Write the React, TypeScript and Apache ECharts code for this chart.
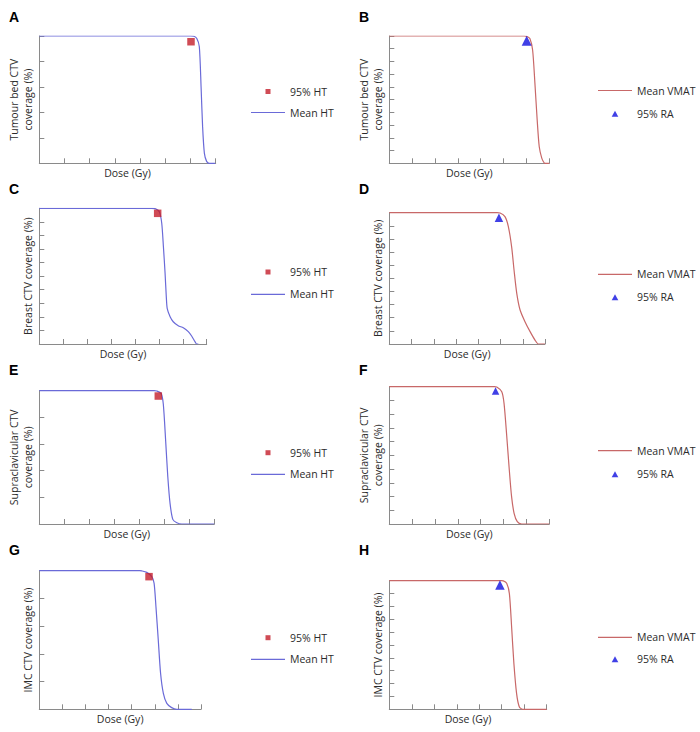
import React, { useEffect, useRef } from "react";
import * as echarts from "echarts";

// ---------- DATA (dose in Gy, coverage in %) ----------
const panelLetters = ["A", "B", "C", "D", "E", "F", "G", "H"];
const yAxisNames = [
  "Tumour bed CTV\ncoverage (%)",
  "Tumour bed CTV\ncoverage (%)",
  "Breast CTV coverage (%)",
  "Breast CTV coverage (%)",
  "Supraclavicular CTV\ncoverage (%)",
  "Supraclavicular CTV\ncoverage (%)",
  "IMC CTV coverage (%)",
  "IMC CTV coverage (%)",
];
const xAxisName = "Dose (Gy)";
const yTickSteps = [20, 10, 10, 10, 20, 10, 20, 10];
const doseMin = 0;
const doseMax = 70;
const doseStep = 10;

const seriesNamesHT = ["95% HT", "Mean HT"];
const seriesNamesVMAT = ["Mean VMAT", "95% RA"];

const A_meanHT = [[0, 100], [40, 100], [60, 100], [61.3, 99.8], [62.5, 98], [63.5, 91.6], [64.2, 60], [64.8, 29], [65.5, 8], [66.4, 1.5], [67.5, 0], [69.8, 0]];
const A_95HT = [[60.2, 95.5]];

const B_meanVMAT = [[0, 100], [40, 100], [59, 100], [60.3, 99.6], [61.5, 98], [62.7, 89], [63.7, 63], [64.7, 34], [65.6, 13], [66.7, 4], [67.5, 1], [68.1, 0], [70, 0]];
const B_95RA = [[60.1, 96.3]];

const C_meanHT = [[0, 100], [30, 100], [47, 100], [48.4, 99.8], [50.2, 97.5], [51.2, 89], [51.9, 71.7], [52.6, 52], [53.1, 35], [53.5, 26], [54.7, 20.1], [56.0, 16.4], [58.1, 13.5], [60.2, 12], [62.3, 9.1], [63.7, 5.9], [65.1, 1.7], [65.8, 0], [66.5, 0]];
const C_95HT = [[49.5, 96.3]];

const D_meanVMAT = [[0, 100], [30, 100], [48.5, 100], [49.8, 99.8], [52, 97], [53.5, 89.6], [55, 74], [56.1, 56], [57.3, 38.6], [58.8, 25.9], [61, 17], [63.3, 9.4], [65.5, 3], [67, 0], [70, 0]];
const D_95RA = [[49.3, 96.2]];

const E_meanHT = [[0, 100], [30, 100], [46, 100], [47, 99.8], [48.7, 98], [49.6, 90], [50.6, 60.5], [51.4, 35.5], [52.3, 15.5], [53.4, 3.5], [55, 1], [57, 0], [70, 0]];
const E_95HT = [[47.6, 96]];

const F_meanVMAT = [[0, 100], [30, 100], [46, 100], [47, 99.8], [49.2, 96.4], [50.2, 87.9], [51.4, 63.6], [52.5, 39.3], [53.5, 19.9], [54.6, 7.8], [56, 1.7], [57.9, 0], [70, 0]];
const F_95RA = [[46.5, 96.9]];

const G_meanHT = [[0, 100], [30, 100], [43.5, 100], [44.3, 99.9], [46.5, 98.8], [48.7, 95.7], [49.7, 90.9], [50.5, 74], [51.5, 50], [52.5, 26], [53.7, 11.5], [55.2, 4.3], [57.3, 1.2], [59.5, 0], [66, 0]];
const G_95HT = [[47.5, 95.7]];

const H_meanVMAT = [[0, 100], [30, 100], [50, 100], [50.7, 99.9], [52.2, 98], [53.4, 90], [54.4, 64], [55.4, 35.8], [56.6, 12.4], [57.8, 2], [59.3, 0], [70, 0]];
const H_95RA = [[49.2, 96.7]];

const meanCurves = [A_meanHT, B_meanVMAT, C_meanHT, D_meanVMAT, E_meanHT, F_meanVMAT, G_meanHT, H_meanVMAT];
const markerPoints = [A_95HT, B_95RA, C_95HT, D_95RA, E_95HT, F_95RA, G_95HT, H_95RA];

// ---------- LAYOUT / STYLE ----------
const grids = [
  { left: 39.3, top: 36, width: 176.4, height: 127.3 },
  { left: 389.3, top: 36, width: 160, height: 127.3 },
  { left: 39.3, top: 208.3, width: 167.4, height: 135.7 },
  { left: 389.3, top: 212.7, width: 155.7, height: 131.3 },
  { left: 39.3, top: 390.7, width: 175, height: 133.3 },
  { left: 389.3, top: 386.7, width: 160, height: 137.3 },
  { left: 39.3, top: 570.7, width: 161.7, height: 138.6 },
  { left: 389.3, top: 580.7, width: 157.4, height: 128.6 },
];
const markerSizes = [7.5, 10, 7.5, 8.5, 7.5, 7.5, 7.5, 9.5];
const letterPos = [
  { left: 9, top: 10 }, { left: 359, top: 10 },
  { left: 9, top: 182 }, { left: 359, top: 182 },
  { left: 9, top: 363 }, { left: 359, top: 363 },
  { left: 9, top: 543 }, { left: 359, top: 543 },
];
const legendPos = [
  { left: 251, top: 86, gap: 10 },
  { left: 598, top: 85, gap: 12.3 },
  { left: 251, top: 266.5, gap: 11.3 },
  { left: 598, top: 268.8, gap: 12 },
  { left: 251, top: 447.2, gap: 10.6 },
  { left: 598, top: 445.2, gap: 12.6 },
  { left: 251, top: 632.2, gap: 10.6 },
  { left: 598, top: 631.8, gap: 11 },
];

// legend icons (34 x 6 box)
const ICON_LINE = "path://M0,2.4 L34,2.4 L34,3.6 L0,3.6 Z M0,0 M34,6";
const ICON_SQUARE = "path://M0,0 M34,6 M14.5,0.5 L19.5,0.5 L19.5,5.5 L14.5,5.5 Z";
const ICON_TRIANGLE = "path://M0,0 M34,6 M17,0 L20.3,6 L13.7,6 Z";

const FONT = "'Open Sans', 'DejaVu Sans', sans-serif";
const FS = 10.5;
const TEXT_COLOR = "#2b2b2b";
const AXIS_COLOR = "#8a8a8a";
const HT_LINE = "#6a6ad8";
const VMAT_LINE = "#c86868";
const HT_MARK = "#c41e2a";
const RA_MARK = "#1010e0";

function buildOption() {
  const title: any[] = [];
  const grid: any[] = [];
  const xAxis: any[] = [];
  const yAxis: any[] = [];
  const series: any[] = [];
  const legend: any[] = [];

  for (let i = 0; i < 8; i++) {
    const isHT = i % 2 === 0;
    title.push({
      text: panelLetters[i],
      left: letterPos[i].left,
      top: letterPos[i].top,
      padding: 0,
      textStyle: { fontSize: 14, fontWeight: "bold", color: "#000", fontFamily: "'Liberation Sans', Arial, sans-serif" },
    });
    grid.push({ ...grids[i], containLabel: false });
    xAxis.push({
      type: "value",
      gridIndex: i,
      min: doseMin,
      max: doseMax,
      interval: doseStep,
      name: xAxisName,
      nameLocation: "middle",
      nameGap: 4,
      nameTextStyle: { fontSize: FS, color: TEXT_COLOR, fontFamily: FONT, verticalAlign: "top" },
      axisLine: { show: true, lineStyle: { color: AXIS_COLOR, width: 1 } },
      axisTick: { show: true, inside: true, length: 5, lineStyle: { color: AXIS_COLOR } },
      axisLabel: { show: false },
      splitLine: { show: false },
    });
    yAxis.push({
      type: "value",
      gridIndex: i,
      min: 0,
      max: 100,
      interval: yTickSteps[i],
      name: yAxisNames[i],
      nameLocation: "middle",
      nameGap: 4,
      nameTextStyle: { fontSize: FS, lineHeight: 14, color: TEXT_COLOR, fontFamily: FONT },
      axisLine: { show: true, lineStyle: { color: AXIS_COLOR, width: 1 } },
      axisTick: { show: true, inside: true, length: 5, lineStyle: { color: AXIS_COLOR } },
      axisLabel: { show: false },
      splitLine: { show: false },
    });
    const lineName = isHT ? seriesNamesHT[1] : seriesNamesVMAT[0];
    const markName = isHT ? seriesNamesHT[0] : seriesNamesVMAT[1];
    series.push({
      type: "line",
      name: lineName,
      xAxisIndex: i,
      yAxisIndex: i,
      data: meanCurves[i],
      symbol: "none",
      smooth: 0.25,
      lineStyle: { color: isHT ? HT_LINE : VMAT_LINE, width: 1.2 },
      itemStyle: { color: isHT ? HT_LINE : VMAT_LINE },
      z: 2,
    });
    series.push({
      type: "scatter",
      name: markName,
      xAxisIndex: i,
      yAxisIndex: i,
      data: markerPoints[i],
      symbol: isHT ? "rect" : "triangle",
      symbolSize: markerSizes[i],
      itemStyle: { color: isHT ? HT_MARK : RA_MARK },
      z: 3,
    });
    const names = isHT ? seriesNamesHT : seriesNamesVMAT;
    legend.push({
      orient: "vertical",
      left: legendPos[i].left,
      top: legendPos[i].top,
      itemGap: legendPos[i].gap,
      itemWidth: 34,
      itemHeight: 6,
      padding: 0,
      selectedMode: false,
      data: names.map((n) => ({
        name: n,
        icon: n.startsWith("Mean") ? ICON_LINE : isHT ? ICON_SQUARE : ICON_TRIANGLE,
      })),
      textStyle: { fontSize: FS, color: TEXT_COLOR, fontFamily: FONT },
    });
  }

  return {
    animation: false,
    backgroundColor: "#fff",
    textStyle: { fontFamily: FONT },
    title,
    grid,
    xAxis,
    yAxis,
    series,
    legend,
  };
}

export default function App() {
  const ref = useRef<HTMLDivElement>(null);
  useEffect(() => {
    if (!ref.current) return;
    const chart = echarts.init(ref.current, undefined, { renderer: "svg" });
    chart.setOption(buildOption() as any);
    return () => chart.dispose();
  }, []);
  return (
    <div
      ref={ref}
      style={{ position: "fixed", left: 0, top: 0, width: 700, height: 732, background: "#fff" }}
    />
  );
}
